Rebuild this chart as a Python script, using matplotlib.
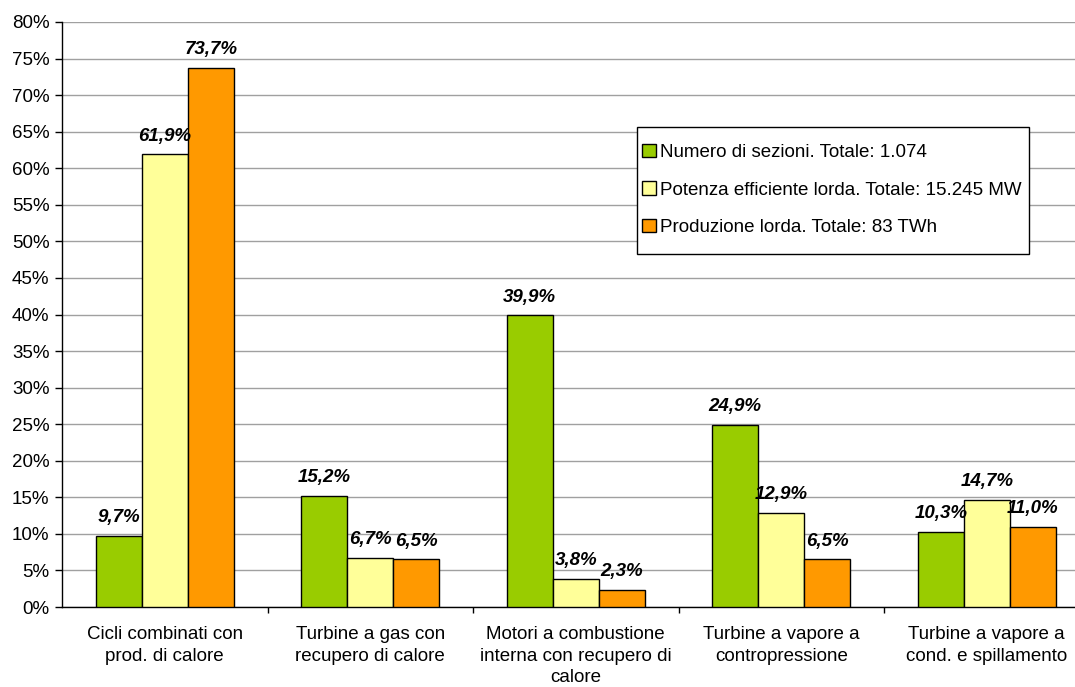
import matplotlib
matplotlib.use("Agg")
import matplotlib.pyplot as plt
import numpy as np
from matplotlib.patches import Patch, Rectangle

categories = ["Cicli combinati con\nprod. di calore",
              "Turbine a gas con\nrecupero di calore",
              "Motori a combustione\ninterna con recupero di\ncalore",
              "Turbine a vapore a\ncontropressione",
              "Turbine a vapore a\ncond. e spillamento"]
series_names = ["Numero di sezioni. Totale: 1.074",
                "Potenza efficiente lorda. Totale: 15.245 MW",
                "Produzione lorda. Totale: 83 TWh"]
numero = [9.7, 15.2, 39.9, 24.9, 10.3]
potenza = [61.9, 6.7, 3.8, 12.9, 14.7]
produzione = [73.7, 6.5, 2.3, 6.5, 11.0]
yticks = list(range(0, 81, 5))

colors = ["#99CC00", "#FFFF99", "#FF9900"]
plt.rcParams['font.family'] = ['Liberation Sans', 'DejaVu Sans']
FS = 13.5

fig = plt.figure(figsize=(10.75, 6.87), dpi=100)
W, H = 1075, 687
left, right, top, bottom = 62, 1075, 22, 607
ax = fig.add_axes([left / W, 1 - bottom / H, (right - left) / W, (bottom - top) / H])

x = np.arange(len(categories))
bw = 0.224
for i, (vals, c, name) in enumerate(zip([numero, potenza, produzione], colors, series_names)):
    pos = x + (i - 1) * bw
    ax.bar(pos, vals, width=bw, color=c, edgecolor="black", linewidth=1.0, zorder=3, label=name)
    for p, v in zip(pos, vals):
        ax.annotate(f"{v:.1f}%".replace(".", ","), (p, v), xytext=(0, 7), textcoords="offset points",
                    ha="center", va="bottom", fontsize=FS, fontweight="bold", fontstyle="italic", zorder=4)

ax.set_ylim(0, 80)
ax.set_xlim(-0.5, 4.5 - (1089.5 - 1075) / 205.5)
ax.set_yticks(yticks)
ax.set_yticklabels([f"{t}%" for t in yticks], fontsize=FS)
ax.yaxis.grid(True, color="#A0A0A0", linewidth=1.0, zorder=0)
ax.set_axisbelow(True)
ax.tick_params(axis="y", direction="out", length=5, width=1, pad=4)

ax.set_xticks(x)
ax.set_xticklabels(categories, fontsize=FS, linespacing=1.32, va="top")
ax.tick_params(axis="x", length=0, pad=14)
ax.set_xticks(np.arange(0.5, 4.5, 1), minor=True)
ax.tick_params(axis="x", which="minor", direction="out", length=4, width=1)

for s in ["top", "right"]:
    ax.spines[s].set_visible(False)
ax.spines["left"].set_linewidth(1.0)
ax.spines["bottom"].set_linewidth(1.0)

# legend box
bx0, by0, bx1, by1 = 637, 127, 1029, 254
ax.add_patch(Rectangle((bx0 / W, 1 - by1 / H), (bx1 - bx0) / W, (by1 - by0) / H,
                       transform=fig.transFigure, facecolor="white", edgecolor="black",
                       linewidth=1.0, zorder=5))
handles = [Patch(facecolor=c, edgecolor="black", linewidth=1.0) for c in colors]
leg = ax.legend(handles, series_names, loc="center left",
                bbox_to_anchor=((bx0 + 5) / W, 1 - ((by0 + by1) / 2 - 0.5) / H),
                bbox_transform=fig.transFigure,
                fontsize=FS, frameon=False,
                handlelength=0.75, handleheight=0.7, handletextpad=0.2, labelspacing=1.1,
                borderpad=0, borderaxespad=0)
leg.set_zorder(6)

fig.savefig("out.png", dpi=100, facecolor="white")
